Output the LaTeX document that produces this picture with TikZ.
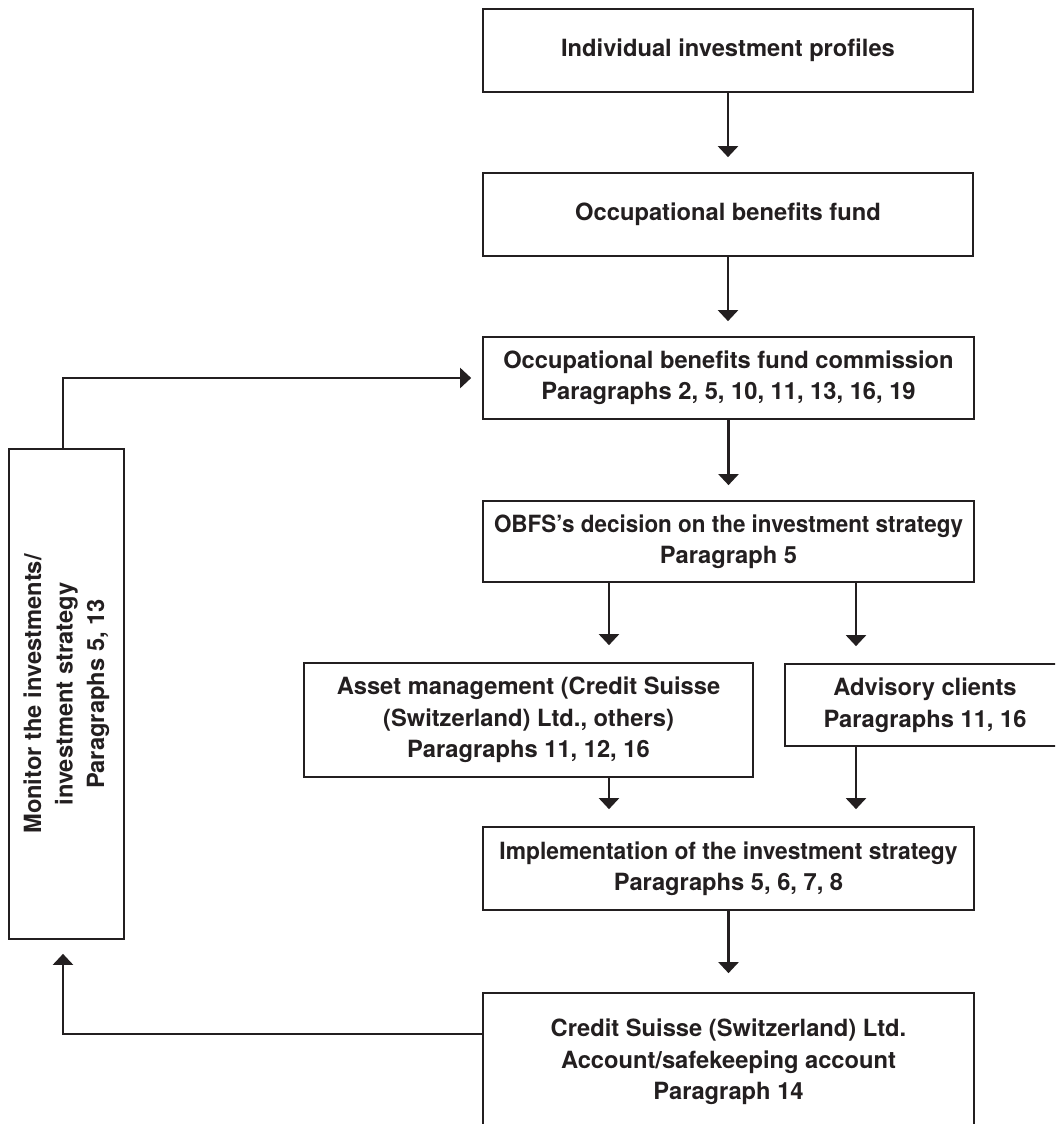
\documentclass[tikz,border=0pt]{standalone}
\usepackage{fontspec}
\usepackage{graphicx}
\setmainfont{TeX Gyre Heros}
\usetikzlibrary{arrows.meta}
\definecolor{ink}{HTML}{231F20}
\begin{document}
\begin{tikzpicture}[x=1pt,y=-1pt,
  box/.style={draw=ink,line width=1.7pt,rectangle,inner sep=0pt,align=center,
    text=ink,font=\fontsize{23.7}{31.5}\selectfont\bfseries},
  arr/.style={draw=ink,line width=2.2pt,-{Triangle[width=20pt,length=11pt]}},
  conn/.style={draw=ink,line width=2.2pt}]
\useasboundingbox (0,0) rectangle (1055,1124);
\clip (0,0) rectangle (1055,1124);
\fill[white] (0,0) rectangle (1055,1124);

\node[box,minimum width=490pt,minimum height=83pt] (b1) at (728,50.5) {Individual investment profiles};
\node[box,minimum width=490pt,minimum height=83pt] (b2) at (728,214.5) {Occupational benefits fund};
\node[box,minimum width=491pt,minimum height=82pt] (b3) at (728.5,378) {Occupational benefits fund commission\\Paragraphs 2, 5, 10, 11, 13, 16, 19};
\node[box,minimum width=491pt,minimum height=81pt] (b4) at (728.5,541.5) {\scalebox{0.947}[1]{OBFS’s decision on the investment strategy}\\Paragraph 5};
\node[box,minimum width=449pt,minimum height=114pt] (asset) at (528.5,720) {Asset management (Credit Suisse\\(Switzerland) Ltd., others)\\Paragraphs 11, 12, 16};
\node[box,minimum width=280pt,minimum height=82pt] (adv) at (925,705) {Advisory clients\\Paragraphs 11, 16};
\node[box,minimum width=491pt,minimum height=83pt] (impl) at (728.5,868.5) {\scalebox{0.962}[1]{Implementation of the investment strategy}\\Paragraphs 5, 6, 7, 8};
\node[box,minimum width=491pt,minimum height=138pt] (b8) at (728.5,1062) {Credit Suisse (Switzerland) Ltd.\\Account/safekeeping account\\Paragraph 14};
\node[box,minimum width=115pt,minimum height=490pt] (mon) at (66.5,694) {};
\node[font=\fontsize{23.7}{31.5}\selectfont\bfseries,text=ink,align=center,rotate=90,inner sep=0pt] (montext) at (mon.center) {Monitor the investments/\\investment strategy\\Paragraphs 5, 13};

\coordinate (c1) at (609,0);
\coordinate (c2) at (856,0);
\coordinate (fb) at (63,1034);

\draw[arr,shorten >=15pt] (b1.south) -- (b1.south |- b2.north);
\draw[arr,shorten >=15pt] (b2.south) -- (b2.south |- b3.north);
\draw[arr,shorten >=15pt] (b3.south) -- (b3.south |- b4.north);
\draw[arr,shorten >=17pt] (b4.south -| c1) -- (c1 |- asset.north);
\draw[arr,shorten >=17pt] (b4.south -| c2) -- (c2 |- adv.north);
\draw[arr,shorten >=17pt] (asset.south -| c1) -- (c1 |- impl.north);
\draw[arr,shorten >=17pt] (adv.south -| c2) -- (c2 |- impl.north);
\draw[arr,shorten >=19pt] (impl.south) -- (impl.south |- b8.north);
\draw[arr,shorten >=14pt] (b8.west |- fb) -- (fb) -- (fb |- mon.south);
\draw[arr,shorten >=11pt] (mon.north -| fb) -- (fb |- b3.west) -- (b3.west);
\end{tikzpicture}
\end{document}
